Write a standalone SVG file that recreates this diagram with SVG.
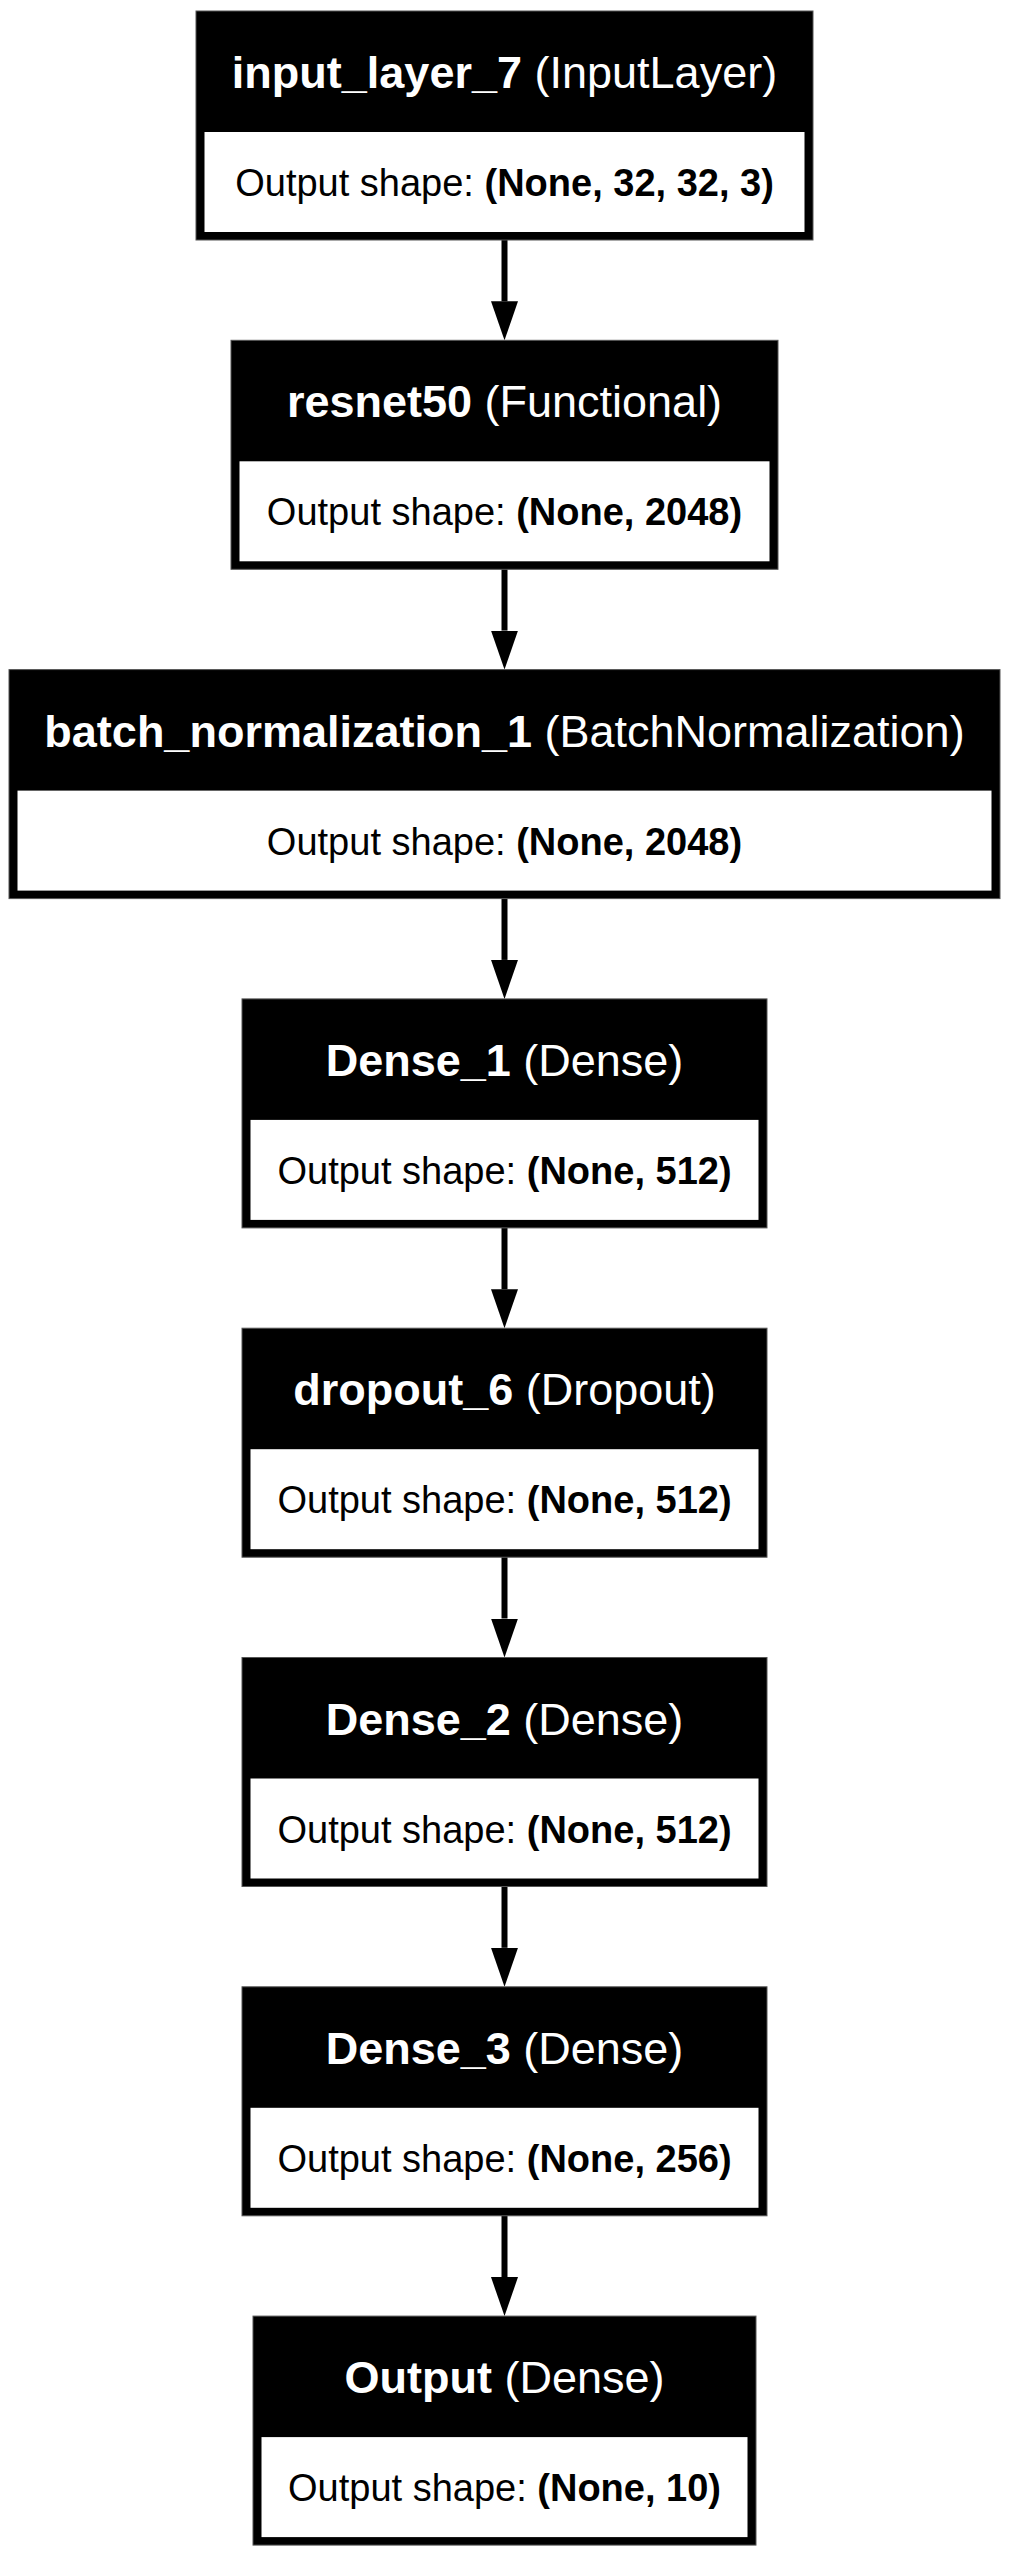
<svg xmlns="http://www.w3.org/2000/svg" width="1009" height="2556" viewBox="0 0 1009 2556">
<defs>
<style>
.outer{fill:#000;stroke:#555;stroke-width:1}
.inner{fill:#fff}
.title{font-family:"Liberation Sans",Arial,Helvetica,sans-serif;font-size:45px;fill:#fff;text-anchor:middle}
.shape{font-family:"Liberation Sans",Arial,Helvetica,sans-serif;font-size:38px;fill:#000;text-anchor:middle}
.b{font-weight:bold}
.edge{stroke:#000;stroke-width:6;fill:none}
</style>
<marker id="arr" markerUnits="userSpaceOnUse" markerWidth="40" markerHeight="28" refX="0" refY="13.5" orient="auto" viewBox="0 0 40 27">
<path d="M0,0 L39,13.5 L0,27 Z" fill="#000"/>
</marker>
</defs>
<rect width="1009" height="2556" fill="#fff"/>
<g id="connectors">
<line class="edge" x1="504.5" y1="240" x2="504.5" y2="301.3" marker-end="url(#arr)"/>
<line class="edge" x1="504.5" y1="569.3" x2="504.5" y2="630.6" marker-end="url(#arr)"/>
<line class="edge" x1="504.5" y1="898.6" x2="504.5" y2="959.9" marker-end="url(#arr)"/>
<line class="edge" x1="504.5" y1="1227.9" x2="504.5" y2="1289.2" marker-end="url(#arr)"/>
<line class="edge" x1="504.5" y1="1557.2" x2="504.5" y2="1618.5" marker-end="url(#arr)"/>
<line class="edge" x1="504.5" y1="1886.5" x2="504.5" y2="1947.8" marker-end="url(#arr)"/>
<line class="edge" x1="504.5" y1="2215.8" x2="504.5" y2="2277.1" marker-end="url(#arr)"/>
</g>
<g id="input_layer_7">
<rect class="outer" x="196" y="11" width="617" height="229"/>
<rect class="inner" x="204.5" y="132" width="600" height="100"/>
<text class="title" x="504.5" y="88"><tspan class="b">input_layer_7</tspan> (InputLayer)</text>
<text class="shape" x="504.5" y="196">Output shape: <tspan class="b">(None, 32, 32, 3)</tspan></text>
</g>
<g id="resnet50">
<rect class="outer" x="231" y="340.3" width="547" height="229"/>
<rect class="inner" x="239.5" y="461.3" width="530" height="100"/>
<text class="title" x="504.5" y="417.3"><tspan class="b">resnet50</tspan> (Functional)</text>
<text class="shape" x="504.5" y="525.3">Output shape: <tspan class="b">(None, 2048)</tspan></text>
</g>
<g id="batch_normalization_1">
<rect class="outer" x="9" y="669.6" width="991" height="229"/>
<rect class="inner" x="17.5" y="790.6" width="974" height="100"/>
<text class="title" x="504.5" y="746.6"><tspan class="b">batch_normalization_1</tspan> (BatchNormalization)</text>
<text class="shape" x="504.5" y="854.6">Output shape: <tspan class="b">(None, 2048)</tspan></text>
</g>
<g id="Dense_1">
<rect class="outer" x="242" y="998.9" width="525" height="229"/>
<rect class="inner" x="250.5" y="1119.9" width="508" height="100"/>
<text class="title" x="504.5" y="1075.9"><tspan class="b">Dense_1</tspan> (Dense)</text>
<text class="shape" x="504.5" y="1183.9">Output shape: <tspan class="b">(None, 512)</tspan></text>
</g>
<g id="dropout_6">
<rect class="outer" x="242" y="1328.2" width="525" height="229"/>
<rect class="inner" x="250.5" y="1449.2" width="508" height="100"/>
<text class="title" x="504.5" y="1405.2"><tspan class="b">dropout_6</tspan> (Dropout)</text>
<text class="shape" x="504.5" y="1513.2">Output shape: <tspan class="b">(None, 512)</tspan></text>
</g>
<g id="Dense_2">
<rect class="outer" x="242" y="1657.5" width="525" height="229"/>
<rect class="inner" x="250.5" y="1778.5" width="508" height="100"/>
<text class="title" x="504.5" y="1734.5"><tspan class="b">Dense_2</tspan> (Dense)</text>
<text class="shape" x="504.5" y="1842.5">Output shape: <tspan class="b">(None, 512)</tspan></text>
</g>
<g id="Dense_3">
<rect class="outer" x="242" y="1986.8" width="525" height="229"/>
<rect class="inner" x="250.5" y="2107.8" width="508" height="100"/>
<text class="title" x="504.5" y="2063.8"><tspan class="b">Dense_3</tspan> (Dense)</text>
<text class="shape" x="504.5" y="2171.8">Output shape: <tspan class="b">(None, 256)</tspan></text>
</g>
<g id="Output">
<rect class="outer" x="253" y="2316.1" width="503" height="229"/>
<rect class="inner" x="261.5" y="2437.1" width="486" height="100"/>
<text class="title" x="504.5" y="2393.1"><tspan class="b">Output</tspan> (Dense)</text>
<text class="shape" x="504.5" y="2501.1">Output shape: <tspan class="b">(None, 10)</tspan></text>
</g>
</svg>
